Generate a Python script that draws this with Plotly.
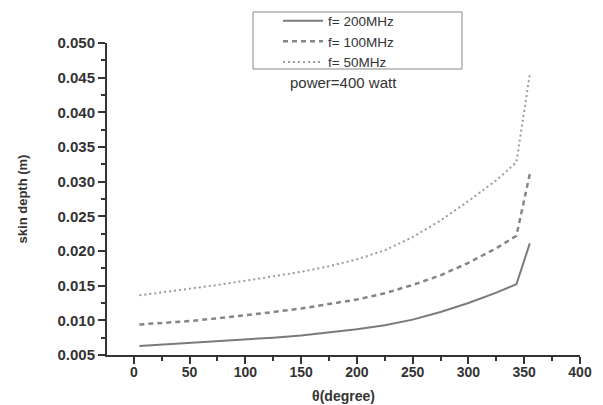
import plotly.graph_objects as go

theta = [5, 25, 50, 75, 100, 125, 150, 175, 200, 225, 250, 275, 300, 325, 343, 355]
depth_200 = [0.0063, 0.0065, 0.0067, 0.0069, 0.0072, 0.0075, 0.0078, 0.0082,
             0.0087, 0.0093, 0.0101, 0.0112, 0.0125, 0.0140, 0.0152, 0.0211]
depth_100 = [0.0094, 0.0096, 0.0099, 0.0103, 0.0107, 0.0112, 0.0117, 0.0123,
             0.0130, 0.0139, 0.0151, 0.0165, 0.0183, 0.0204, 0.0222, 0.0311]
depth_50 = [0.0136, 0.0140, 0.0145, 0.0151, 0.0157, 0.0163, 0.0170, 0.0178,
            0.0188, 0.0201, 0.0220, 0.0244, 0.0272, 0.0302, 0.0328, 0.0455]
series_names = ["f= 200MHz", "f= 100MHz", "f= 50MHz"]
x_ticks = [0, 50, 100, 150, 200, 250, 300, 350, 400]
y_ticks = [0.005, 0.010, 0.015, 0.020, 0.025, 0.030, 0.035, 0.040, 0.045, 0.050]

FONT = "Liberation Sans, Arial, sans-serif"

fig = go.Figure()
fig.add_trace(go.Scatter(x=theta, y=depth_200, mode="lines", name=series_names[0],
                         line=dict(color="#7a7a7a", width=2, dash="solid")))
fig.add_trace(go.Scatter(x=theta, y=depth_100, mode="lines", name=series_names[1],
                         line=dict(color="#858585", width=2.5, dash="5px,4px")))
fig.add_trace(go.Scatter(x=theta, y=depth_50, mode="lines", name=series_names[2],
                         line=dict(color="#9a9a9a", width=2, dash="2px,3px")))

# page body has an 8px default margin, so the figure is 8px smaller
fig.update_layout(
    width=595, height=397,
    margin=dict(l=99, r=23, t=35, b=50, autoexpand=False),
    paper_bgcolor="white", plot_bgcolor="white",
    showlegend=True,
    legend=dict(x=0.315, xanchor="left", y=1.0048, yanchor="middle",
                borderwidth=0, bgcolor="rgba(0,0,0,0)",
                font=dict(family=FONT, size=13.5, color="#333333"),
                itemwidth=40, indentation=22, tracegroupgap=0),
    shapes=[dict(type="rect", xref="paper", yref="paper",
                 x0=0.3087, x1=0.7505, y0=0.9167, y1=1.0994,
                 line=dict(color="#888888", width=1), layer="above")],
    annotations=[dict(text="power=400 watt", x=0.5, xref="paper", xanchor="center",
                      y=0.874, yref="paper", yanchor="middle", showarrow=False,
                      font=dict(family=FONT, size=15, color="#333333"))],
)

fig.update_xaxes(
    range=[-24, 400], tickvals=x_ticks, ticktext=[str(v) for v in x_ticks],
    automargin=False,
    showgrid=False, zeroline=False, showline=True, linecolor="#333333", linewidth=2,
    ticks="outside", ticklen=7, tickwidth=2, tickcolor="#333333",
    minor=dict(ticks="outside", ticklen=4, tickwidth=2, tickcolor="#333333", dtick=25, tick0=0),
    tickfont=dict(family=FONT, size=14, color="#333333", weight="bold"),
    ticklabelstandoff=-4,
    title=dict(text="θ(degree)", standoff=12,
               font=dict(family=FONT, size=14, color="#333333", weight="bold")),
)
fig.update_yaxes(
    range=[0.005, 0.050], tickvals=y_ticks, ticktext=["%.3f" % v for v in y_ticks],
    automargin=False,
    showgrid=False, zeroline=False, showline=True, linecolor="#333333", linewidth=2,
    ticks="outside", ticklen=7, tickwidth=2, tickcolor="#333333",
    minor=dict(ticks="outside", ticklen=4, tickwidth=2, tickcolor="#333333", dtick=0.0025, tick0=0.005),
    tickfont=dict(family=FONT, size=15, color="#333333", weight="bold"),
    title=dict(text="skin depth (m)", standoff=27,
               font=dict(family=FONT, size=13, color="#333333", weight="bold")),
)

fig.write_html("out.html")
